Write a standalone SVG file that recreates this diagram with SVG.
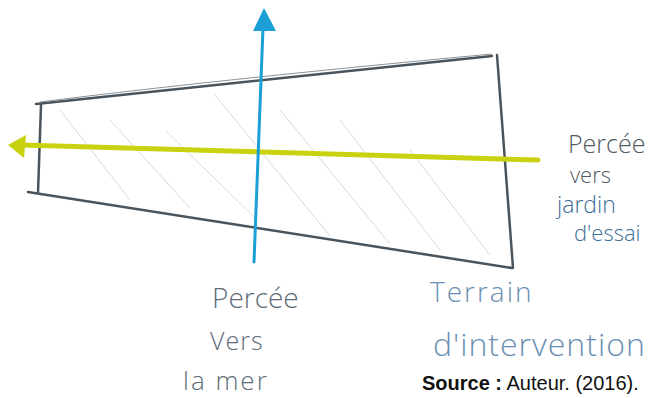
<svg xmlns="http://www.w3.org/2000/svg" width="664" height="398" viewBox="0 0 664 398">
<style>
.hand{font-family:"Open Sans","DejaVu Sans",sans-serif;font-weight:300;}
.edge{fill:none;stroke:#4a545c;stroke-width:2.5;stroke-linecap:round;}
.hatch{stroke:#d6dadc;stroke-width:1;}
</style>
<rect width="664" height="398" fill="#ffffff"/>
<g id="terrain">
<g class="hatch">
<line x1="60" y1="110" x2="130" y2="200"/>
<line x1="110" y1="120" x2="190" y2="208"/>
<line x1="165" y1="130" x2="255" y2="218"/>
<line x1="215" y1="95" x2="330" y2="236"/>
<line x1="280" y1="110" x2="390" y2="244"/>
<line x1="340" y1="120" x2="440" y2="250"/>
<line x1="410" y1="150" x2="490" y2="255"/>
</g>
<path class="edge" d="M36,104 L492,56"/>
<path d="M40,102 C150,88 300,72 492,54" fill="none" stroke="#8a9298" stroke-width="1"/>
<path class="edge" d="M41,105 L38,193"/>
<path class="edge" d="M497,55 L513,268"/>
<path class="edge" d="M28,192 L512,268"/>
</g>
<g id="connectors">
<path d="M538,160 L22,145" fill="none" stroke="#c9d20e" stroke-width="5" stroke-linecap="round"/>
<polygon points="8,145 26,135 24,158" fill="#c9d20e"/>
<path d="M263,28 L254,262" fill="none" stroke="#1a9fd6" stroke-width="3" stroke-linecap="round"/>
<polygon points="264,8 253,31 276,31" fill="#1a9fd6"/>
</g>
<g id="label-mer" class="hand" fill="#5d6c78">
<text x="212" y="308" font-size="28">Percée</text>
<text x="210" y="350" font-size="25" letter-spacing="1">Vers</text>
<text x="183" y="390" font-size="26" letter-spacing="2">la mer</text>
</g>
<g id="label-jardin" class="hand" fill="#4f5a62">
<text x="568" y="153" font-size="25">Percée</text>
<text x="570" y="183" font-size="22">vers</text>
<text x="557" y="213" font-size="23" fill="#3f6e96">jardin</text>
<text x="574" y="241" font-size="22" fill="#3f6e96">d'essai</text>
</g>
<g id="label-terrain" class="hand" fill="#6a8fb2">
<text x="430" y="302" font-size="28" letter-spacing="2">Terrain</text>
<text x="433" y="356" font-size="32" letter-spacing="1">d'intervention</text>
</g>
<text x="422" y="390" font-family="Liberation Sans, Arial, sans-serif" font-size="20" fill="#111"><tspan font-weight="bold">Source :</tspan> Auteur. (2016).</text>
</svg>
